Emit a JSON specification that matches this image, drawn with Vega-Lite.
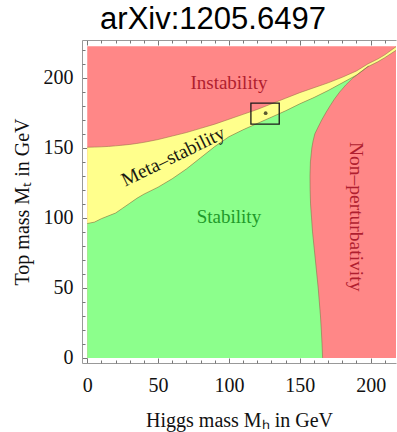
{
  "$schema": "https://vega.github.io/schema/vega-lite/v6.json",
  "width": 314,
  "height": 323,
  "autosize": {"type": "none"},
  "padding": {"left": 82, "top": 40, "right": 1, "bottom": 69},
  "background": "white",
  "title": {"text": "arXiv:1205.6497", "font": "Liberation Sans", "fontSize": 31, "fontWeight": "normal", "color": "#000", "anchor": "middle", "frame": "group", "dx": -26, "offset": 4},
  "config": {
    "view": {"stroke": null},
    "axis": {"labelFont": "Liberation Serif", "labelFontSize": 20, "labelColor": "#111", "titleFont": "Liberation Serif", "titleFontSize": 20, "titleFontWeight": "normal", "titleColor": "#111", "domainColor": "#999", "tickColor": "#777", "grid": false, "labelFlush": false, "labelOverlap": false}
  },
  "resolve": {"axis": {"x": "independent", "y": "independent"}},
  "datasets": {
    "regions": [{"region": "Instability", "mh0": 0, "mh1": 217.9, "mt0": 0, "mt1": 222.6}],
    "band": [
      {"mh": 0, "lower": 96, "upper": 150.5},
      {"mh": 5, "lower": 97, "upper": 150.6},
      {"mh": 10, "lower": 99.5, "upper": 150.8},
      {"mh": 15, "lower": 101.5, "upper": 151.1},
      {"mh": 20, "lower": 103.5, "upper": 151.5},
      {"mh": 25, "lower": 107, "upper": 152},
      {"mh": 30, "lower": 110.5, "upper": 152.5},
      {"mh": 35, "lower": 114, "upper": 153.2},
      {"mh": 40, "lower": 117, "upper": 154},
      {"mh": 45, "lower": 119.5, "upper": 155},
      {"mh": 50, "lower": 122, "upper": 156},
      {"mh": 60, "lower": 128, "upper": 158.5},
      {"mh": 70, "lower": 135, "upper": 161},
      {"mh": 80, "lower": 143, "upper": 164},
      {"mh": 90, "lower": 151, "upper": 167},
      {"mh": 100, "lower": 158, "upper": 170.5},
      {"mh": 110, "lower": 163, "upper": 174},
      {"mh": 120, "lower": 167.5, "upper": 177.5},
      {"mh": 130, "lower": 172, "upper": 181.5},
      {"mh": 140, "lower": 176.5, "upper": 185.5},
      {"mh": 150, "lower": 181.5, "upper": 189.5},
      {"mh": 160, "lower": 186, "upper": 193},
      {"mh": 170, "lower": 191, "upper": 196.5},
      {"mh": 180, "lower": 196.5, "upper": 200.5},
      {"mh": 190, "lower": 202, "upper": 205},
      {"mh": 198, "lower": 208, "upper": 210},
      {"mh": 205, "lower": 211.5, "upper": 213.5},
      {"mh": 210, "lower": 214.5, "upper": 216.5},
      {"mh": 217.9, "lower": 219.7, "upper": 222.3}
    ],
    "nonpert": [
      {"mt": 0, "mh": 166.1},
      {"mt": 10, "mh": 165.7},
      {"mt": 20, "mh": 165.2},
      {"mt": 30, "mh": 164.6},
      {"mt": 40, "mh": 163.8},
      {"mt": 50, "mh": 163},
      {"mt": 60, "mh": 162},
      {"mt": 70, "mh": 161},
      {"mt": 80, "mh": 160},
      {"mt": 90, "mh": 159},
      {"mt": 100, "mh": 158.3},
      {"mt": 110, "mh": 157.6},
      {"mt": 120, "mh": 157.3},
      {"mt": 130, "mh": 157.2},
      {"mt": 140, "mh": 157.5},
      {"mt": 150, "mh": 158.5},
      {"mt": 155, "mh": 159.4},
      {"mt": 160, "mh": 160.6},
      {"mt": 165, "mh": 163},
      {"mt": 170, "mh": 165.5},
      {"mt": 175, "mh": 168.3},
      {"mt": 180, "mh": 171.3},
      {"mt": 185, "mh": 174.5},
      {"mt": 190, "mh": 178.2},
      {"mt": 195, "mh": 182.5},
      {"mt": 200, "mh": 187.5},
      {"mt": 205, "mh": 194},
      {"mt": 208.5, "mh": 198.5}
    ],
    "box": [{"mh0": 115.5, "mh1": 135.5, "mt0": 167, "mt1": 182}],
    "dot": [{"mh": 125.9, "mt": 174.8}],
    "labels": [
      {"label": "Instability", "mh": 100, "mt": 196.2},
      {"label": "Stability", "mh": 100, "mt": 101},
      {"label": "Meta–stability", "mh": 60.7, "mt": 143.8},
      {"label": "Non–perturbativity", "mh": 189.4, "mt": 100.9}
    ]
  },
  "layer": [
    {
      "data": {"name": "regions"},
      "mark": {"type": "rect", "color": "#FF8787"},
      "encoding": {
        "x": {"field": "mh0", "type": "quantitative", "scale": {"domain": [-3.7, 217.9], "nice": false, "zero": false},
              "axis": {"orient": "bottom", "values": [0, 50, 100, 150, 200], "tickSize": -5, "labelPadding": 17, "title": "Higgs mass Mₕ in GeV", "titlePadding": 15}},
        "x2": {"field": "mh1"},
        "y": {"field": "mt0", "type": "quantitative", "scale": {"domain": [-3.6, 227.1], "nice": false, "zero": false},
              "axis": {"orient": "left", "values": [0, 50, 100, 150, 200], "tickSize": -5, "labelPadding": 14, "title": "Top mass Mₜ in GeV", "titlePadding": 11}},
        "y2": {"field": "mt1"}
      }
    },
    {
      "data": {"name": "band"},
      "mark": {"type": "area", "color": "#FFFF8C"},
      "encoding": {
        "x": {"field": "mh", "type": "quantitative", "scale": {"domain": [-3.7, 217.9], "nice": false, "zero": false},
              "axis": {"orient": "bottom", "values": [10, 20, 30, 40, 60, 70, 80, 90, 110, 120, 130, 140, 160, 170, 180, 190, 210], "tickSize": -3, "labels": false, "domain": false, "title": null}},
        "y": {"field": "lower", "type": "quantitative", "scale": {"domain": [-3.6, 227.1], "nice": false, "zero": false},
              "axis": {"orient": "left", "values": [10, 20, 30, 40, 60, 70, 80, 90, 110, 120, 130, 140, 160, 170, 180, 190, 210, 220], "tickSize": -3, "labels": false, "domain": false, "title": null}},
        "y2": {"field": "upper"}
      }
    },
    {
      "data": {"name": "band"},
      "transform": [{"filter": "datum.mh <= 198"}],
      "mark": {"type": "area", "color": "#8CFF8C"},
      "encoding": {
        "x": {"field": "mh", "type": "quantitative", "scale": {"domain": [-3.7, 217.9], "nice": false, "zero": false},
              "axis": {"orient": "top", "values": [0, 50, 100, 150, 200], "tickSize": -5, "labels": false, "title": null}},
        "y": {"field": "lower", "type": "quantitative", "scale": {"domain": [-3.6, 227.1], "nice": false, "zero": false}, "axis": null},
        "y2": {"datum": 0}
      }
    },
    {
      "data": {"name": "nonpert"},
      "mark": {"type": "area", "orient": "horizontal", "color": "#FF8787"},
      "encoding": {
        "y": {"field": "mt", "type": "quantitative", "scale": {"domain": [-3.6, 227.1], "nice": false, "zero": false}, "axis": null},
        "x": {"field": "mh", "type": "quantitative", "scale": {"domain": [-3.7, 217.9], "nice": false, "zero": false},
              "axis": {"orient": "top", "values": [10, 20, 30, 40, 60, 70, 80, 90, 110, 120, 130, 140, 160, 170, 180, 190, 210], "tickSize": -3, "labels": false, "domain": false, "title": null}},
        "x2": {"datum": 217.9}
      }
    },
    {
      "data": {"name": "band"},
      "mark": {"type": "line", "color": "#9a6a4a", "strokeWidth": 0.8, "opacity": 0.7},
      "encoding": {
        "x": {"field": "mh", "type": "quantitative", "axis": null},
        "y": {"field": "upper", "type": "quantitative", "axis": null}
      }
    },
    {
      "data": {"name": "band"},
      "mark": {"type": "line", "color": "#7a7a3a", "strokeWidth": 0.8, "opacity": 0.7},
      "encoding": {
        "x": {"field": "mh", "type": "quantitative", "axis": null},
        "y": {"field": "lower", "type": "quantitative", "axis": null}
      }
    },
    {
      "data": {"name": "nonpert"},
      "mark": {"type": "line", "color": "#8a6a4a", "strokeWidth": 0.8, "opacity": 0.7},
      "encoding": {
        "x": {"field": "mh", "type": "quantitative", "axis": null},
        "y": {"field": "mt", "type": "quantitative", "axis": null},
        "order": {"field": "mt"}
      }
    },
    {
      "data": {"name": "box"},
      "mark": {"type": "rect", "fillOpacity": 0, "stroke": "#1a1a1a", "strokeWidth": 1.3},
      "encoding": {
        "x": {"field": "mh0", "type": "quantitative", "axis": null},
        "x2": {"field": "mh1"},
        "y": {"field": "mt0", "type": "quantitative", "axis": null},
        "y2": {"field": "mt1"}
      }
    },
    {
      "data": {"name": "dot"},
      "mark": {"type": "point", "filled": true, "shape": "circle", "size": 14, "color": "#5a5a30", "opacity": 1},
      "encoding": {
        "x": {"field": "mh", "type": "quantitative", "axis": null},
        "y": {"field": "mt", "type": "quantitative", "axis": null}
      }
    },
    {
      "data": {"name": "labels"},
      "transform": [{"filter": "datum.label == 'Instability'"}],
      "mark": {"type": "text", "font": "Liberation Serif", "fontSize": 19, "color": "#B01E2F", "align": "center", "baseline": "middle"},
      "encoding": {
        "x": {"field": "mh", "type": "quantitative", "axis": null},
        "y": {"field": "mt", "type": "quantitative", "axis": null},
        "text": {"field": "label"}
      }
    },
    {
      "data": {"name": "labels"},
      "transform": [{"filter": "datum.label == 'Stability'"}],
      "mark": {"type": "text", "font": "Liberation Serif", "fontSize": 19, "color": "#1F9A2A", "align": "center", "baseline": "middle"},
      "encoding": {
        "x": {"field": "mh", "type": "quantitative", "axis": null},
        "y": {"field": "mt", "type": "quantitative", "axis": null},
        "text": {"field": "label"}
      }
    },
    {
      "data": {"name": "labels"},
      "transform": [{"filter": "datum.label == 'Meta–stability'"}],
      "mark": {"type": "text", "font": "Liberation Serif", "fontSize": 19.5, "color": "#1a1a10", "align": "center", "baseline": "middle", "angle": 334},
      "encoding": {
        "x": {"field": "mh", "type": "quantitative", "axis": null},
        "y": {"field": "mt", "type": "quantitative", "axis": null},
        "text": {"field": "label"}
      }
    },
    {
      "data": {"name": "labels"},
      "transform": [{"filter": "datum.label == 'Non–perturbativity'"}],
      "mark": {"type": "text", "font": "Liberation Serif", "fontSize": 19.5, "color": "#B01E2F", "align": "center", "baseline": "middle", "angle": 90},
      "encoding": {
        "x": {"field": "mh", "type": "quantitative", "axis": null},
        "y": {"field": "mt", "type": "quantitative", "axis": null},
        "text": {"field": "label"}
      }
    }
  ]
}
